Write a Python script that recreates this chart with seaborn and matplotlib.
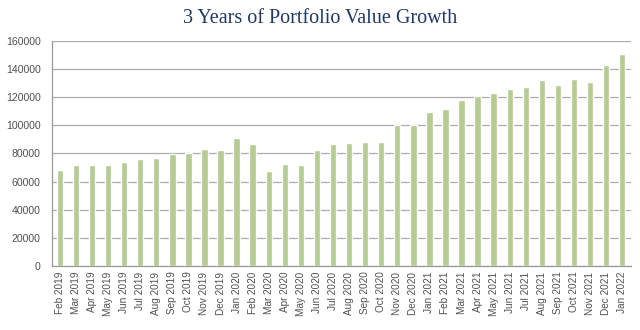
import matplotlib
matplotlib.use("Agg")
import matplotlib.pyplot as plt
import seaborn as sns
import pandas as pd

months = [
    "Feb 2019", "Mar 2019", "Apr 2019", "May 2019", "Jun 2019", "Jul 2019",
    "Aug 2019", "Sep 2019", "Oct 2019", "Nov 2019", "Dec 2019", "Jan 2020",
    "Feb 2020", "Mar 2020", "Apr 2020", "May 2020", "Jun 2020", "Jul 2020",
    "Aug 2020", "Sep 2020", "Oct 2020", "Nov 2020", "Dec 2020", "Jan 2021",
    "Feb 2021", "Mar 2021", "Apr 2021", "May 2021", "Jun 2021", "Jul 2021",
    "Aug 2021", "Sep 2021", "Oct 2021", "Nov 2021", "Dec 2021", "Jan 2022",
]
portfolio_value = [
    68300, 71900, 72000, 72000, 73700, 76100,
    76600, 79600, 80400, 83400, 82700, 91200,
    86800, 67300, 72500, 71800, 82700, 86800,
    87700, 88400, 88400, 100300, 100500, 109500,
    111600, 118000, 120900, 123000, 125900, 127500,
    132300, 128700, 133200, 131100, 143200, 150500,
]
y_ticks = [0, 20000, 40000, 60000, 80000, 100000, 120000, 140000, 160000]

df = pd.DataFrame({"month": months, "value": portfolio_value})

sns.set_theme(style="white")
plt.rcParams["font.family"] = ["Liberation Sans", "DejaVu Sans"]

fig = plt.figure(figsize=(6.4, 3.3), dpi=100)
ax = fig.add_axes([0.081, 0.194, 0.905, 0.682])

sns.barplot(data=df, x="month", y="value", color="#B5CC92", saturation=1,
            width=0.4, ax=ax)

ax.set_ylim(0, 160000)
ax.set_yticks(y_ticks)
ax.set_yticklabels([str(v) for v in y_ticks], fontsize=7.6, color="#505050")
ax.set_xlim(-0.5, len(months) - 0.45)
ax.tick_params(axis="x", labelrotation=90, labelsize=7.2, colors="#505050",
               length=0, pad=4)
ax.tick_params(axis="y", length=0, pad=8)
ax.set_xlabel("")
ax.set_ylabel("")

ax.yaxis.grid(True, color="#ABABAB", linewidth=0.9)
ax.set_axisbelow(True)
for side in ("top", "right"):
    ax.spines[side].set_visible(False)
for side in ("left", "bottom"):
    ax.spines[side].set_color("#9A9A9A")
    ax.spines[side].set_linewidth(0.9)

fig.text(0.5, 0.945, "3 Years of Portfolio Value Growth", ha="center",
         va="center", fontsize=14.5, color="#1F3864",
         family=["Liberation Serif", "DejaVu Serif"])

fig.savefig("out.png", dpi=100)
